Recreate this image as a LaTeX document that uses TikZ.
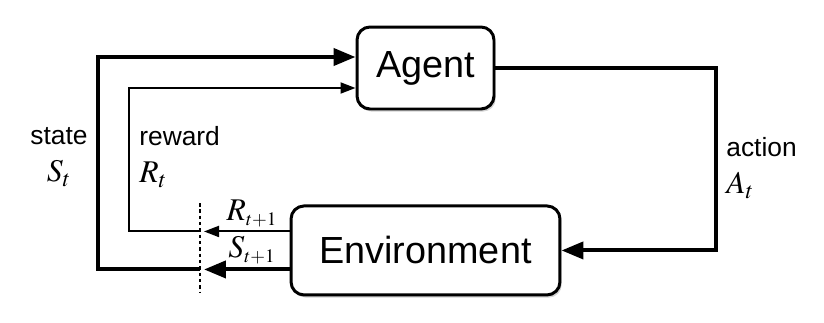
\documentclass[tikz,border=0pt]{standalone}
\usepackage{mathptmx}
\usepackage[no-math]{fontspec}
\setmainfont{Liberation Sans}
\usetikzlibrary{arrows.meta,positioning,shadows}

\begin{document}
\begin{tikzpicture}[
    x=0.02cm, y=0.02cm,
    rlbox/.style={
      draw=black,
      line width=1.7pt,
      fill=white,
      rounded corners=0.26cm,
      drop shadow={opacity=0.35, shadow xshift=1pt, shadow yshift=-1.5pt},
      inner sep=0pt,
      font=\fontsize{21.5}{26}\selectfont
    },
    bigarrow/.style={-{Triangle[length=0.44cm, width=0.34cm]}, line width=2.3pt},
    smallarrow/.style={-{Triangle[length=0.3cm, width=0.22cm]}, line width=1.1pt},
    signal/.style={inner sep=0pt, font=\fontsize{15}{21.5}\selectfont},
    cut/.style={dash pattern=on 2pt off 1.6pt, line width=0.6pt}
  ]
    \useasboundingbox (0,0) rectangle (824,322);

    \node[rlbox, minimum width=2.74cm, minimum height=1.64cm]
      (agent) at (425.5,254) {Agent};
    \node[rlbox, minimum width=5.38cm, minimum height=1.78cm, below=1.88cm of agent]
      (env) {Environment};

    \coordinate (cuttop) at (200,119);
    \coordinate (cutbot) at (200,29);
    \coordinate (rleft) at (129,160);
    \coordinate (sleft) at (98,160);
    \coordinate (aright) at (716,160);
    \coordinate (rout) at ([yshift=0.38cm]env.west);
    \coordinate (sout) at ([yshift=-0.38cm]env.west);
    \coordinate (rin) at ([yshift=-0.4cm]agent.west);
    \coordinate (sin) at ([yshift=0.22cm]agent.west);

    \draw[cut] (cuttop) -- (cutbot);

    \draw[smallarrow, shorten >=0.08cm] (rout) -- (rout -| cuttop)
      node[signal, above=2pt, pos=0.42] (rnext)
      {\fontsize{18}{21.5}\selectfont$R_{\scriptscriptstyle t+1}$};
    \draw[bigarrow, shorten >=0.08cm] (sout) -- (sout -| cuttop)
      node[signal, above=2pt, pos=0.42] (snext)
      {\fontsize{18}{21.5}\selectfont$S_{\scriptscriptstyle t+1}$};

    \draw[smallarrow] (rout -| cuttop) -| (rleft |- rin) -- (rin);
    \draw[bigarrow] (sout -| cuttop) -| (sleft |- sin) -- (sin);
    \draw[bigarrow] (agent.east) -| (aright |- env.east) -- (env.east);

    \node[signal, align=center] (statelbl) at (59,165)
      {state\\{\fontsize{18}{21.5}\selectfont$S_t$}};
    \node[signal, align=left, anchor=west] (rewardlbl) at (139,165)
      {reward\\{\fontsize{18}{21.5}\selectfont$R_t$}};
    \node[signal, align=left, anchor=west] (actionlbl) at (726,154)
      {action\\{\fontsize{18}{21.5}\selectfont$A_t$}};
  \end{tikzpicture}
\end{document}
